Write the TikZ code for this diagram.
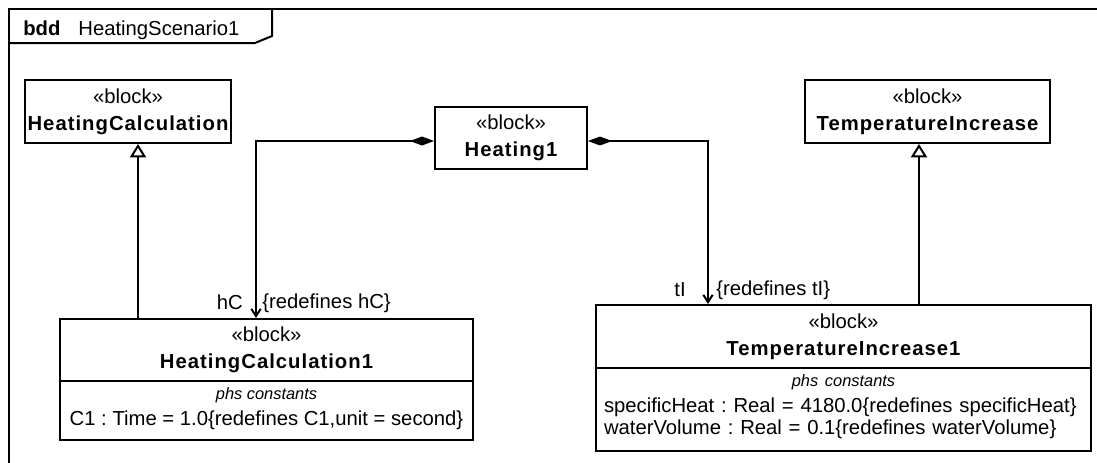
\documentclass[tikz,border=0pt]{standalone}
\usepackage{fontspec}
\setmainfont{Liberation Sans}
\newfontfamily\boldfam{Liberation Sans}[LetterSpace=5]
\usetikzlibrary{arrows.meta}
\frenchspacing
\newcommand\phsfont{\fontsize{12.3}{14}\selectfont\itshape}
\newcommand\blockname[1]{{\boldfam\bfseries #1}}
\tikzset{
  frameline/.style={line width=1.5pt},
  blockbox/.style={draw, line width=1.5pt, rectangle, inner sep=0pt, align=center,
    anchor=north west, font=\fontsize{15.2}{20.3}\selectfont},
  compbox/.style={draw, line width=1.5pt, rectangle, inner sep=0pt, anchor=north west,
    font=\fontsize{15.2}{16.5}\selectfont},
  endlbl/.style={inner sep=0pt, font=\fontsize{15.2}{18}\selectfont},
  composition/.style={line width=1.5pt,
    {Diamond[length=18pt,width=6.75pt]}-{Straight Barb[length=5.5pt,width=7pt]}},
  generalization/.style={line width=1.5pt,
    -{Triangle[open,length=10pt,width=12pt,fill=white]}},
}
\begin{document}
\begin{tikzpicture}[x=0.75pt,y=-0.75pt]
\useasboundingbox (0,0) rectangle (1097,462);
\clip (0,0) rectangle (1097,462);
\fill[white] (0,0) rectangle (1097,462);
% frame
\draw[frameline] (9,9) rectangle (1200,600);
\draw[frameline] (9,43) -- (255,43) -- (272,36) -- (272,9);
\node[anchor=base west, inner sep=0pt, font=\fontsize{15.2}{18}\selectfont] (framelabel)
  at (23,35) {\textbf{bdd}\hspace{13.5pt}HeatingScenario1};

% blocks
\node[blockbox, minimum width=154.5pt, minimum height=47.25pt] (hc) at (24,79)
  {«block»\\\blockname{HeatingCalculation}};
\node[blockbox, minimum width=114pt, minimum height=46.5pt] (h1) at (434,106)
  {«block»\\\blockname{Heating1}};
\node[blockbox, minimum width=183.75pt, minimum height=47.25pt] (ti) at (804,79)
  {«block»\\\blockname{TemperatureIncrease}};

\node[blockbox, minimum width=309.75pt, minimum height=46.5pt] (hc1) at (59,318)
  {«block»\\\blockname{HeatingCalculation1}};
\node[compbox, align=center, minimum width=309.75pt, minimum height=44.25pt] (hc1c) at (59,380)
  {{\phsfont phs constants}\\[3pt]C1 : Time = 1.0\{redefines C1,unit = second\}\rule[-6pt]{0pt}{0pt}};

\node[blockbox, minimum width=371.25pt, minimum height=47.25pt] (ti1) at (595,304)
  {«block»\\\blockname{TemperatureIncrease1}};
\node[compbox, align=left, text width=359.25pt, inner xsep=6pt, minimum width=371.25pt,
  minimum height=62.25pt] (ti1c) at (595,367)
  {{\centering\phsfont phs constants\par}\vspace{3pt}\mbox{specificHeat : Real = 4180.0\{redefines specificHeat\}}\\
   \mbox{waterVolume : Real = 0.1\{redefines waterVolume\}}\rule[-7.5pt]{0pt}{0pt}};

% connectors
\draw[composition] ([yshift=-2.25pt]h1.west) -| (hc1.north -| 256,0);
\draw[composition] ([yshift=-2.25pt]h1.east) -| (ti1.north -| 708,0);
\draw[generalization] (hc1.north -| 138,0) -- (hc.south -| 138,0);
\draw[generalization] (ti1.north -| 919,0) -- (ti.south -| 919,0);

% association end labels
\node[endlbl, anchor=base east] (hcrole) at (243,309) {hC};
\node[endlbl, anchor=base west] (hcred) at (262,308) {\{redefines hC\}};
\node[endlbl, anchor=base east] (tirole) at (686,296) {tI};
\node[endlbl, anchor=base west] (tired) at (716,295) {\{redefines tI\}};
\end{tikzpicture}
\end{document}
